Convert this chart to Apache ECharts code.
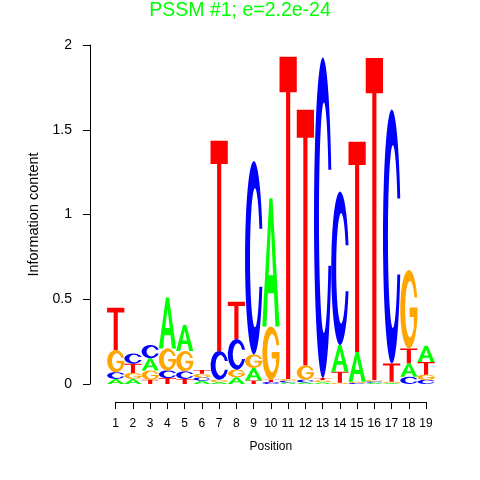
<!DOCTYPE html>
<html>
<head>
<meta charset="utf-8">
<script src="https://cdn.jsdelivr.net/npm/echarts@6/dist/echarts.min.js"></script>
<style>html,body{margin:0;padding:0;background:#fff;}#c{width:480px;height:480px;}</style>
</head>
<body>
<div id="c"></div>
<script>
// ---- data ----
const positions = [1,2,3,4,5,6,7,8,9,10,11,12,13,14,15,16,17,18,19];
const heightA = [0.030,0.030,0.072,0.300,0.155,0.019,0.012,0.040,0.075,0.757,0.009,0.010,0.011,0.157,0.176,0.007,0.006,0.079,0.095];
const heightC = [0.040,0.060,0.078,0.045,0.045,0.020,0.170,0.180,1.140,0.012,0.010,0.015,1.890,0.905,0.006,0.008,1.498,0.043,0.025];
const heightG = [0.130,0.035,0.055,0.130,0.120,0.021,0.013,0.045,0.080,0.314,0.011,0.085,0.012,0.008,0.007,0.009,0.007,0.463,0.030];
const heightT = [0.250,0.055,0.025,0.035,0.030,0.022,1.240,0.220,0.020,0.013,1.900,1.508,0.013,0.065,1.240,1.900,0.108,0.088,0.075];
const yTickValues = [0, 0.5, 1, 1.5, 2];
const titleText = 'PSSM #1; e=2.2e-24';

// ---- glyphs ----
const letters = ['A','C','G','T'];
const colors = ['#00ff00','#0000ff','#ffa500','#ff0000'];
const paths = [
  'M0,100 L41,0 L59,0 L100,100 L76,100 L68,74 L32,74 L24,100 Z M37,60 L63,60 L50,22 Z',
  'M97.7,35 A50,50 0 1 0 97.7,65 L81.5,65 A28,36 0 1 1 81.5,35 Z',
  'M97.7,35 A50,50 0 1 0 99,60 L99,48 L54,48 L54,60 L78,60 L78,72.3 A28,36 0 1 1 81.5,35 Z',
  'M0,0 L100,0 L100,11 L62,11 L62,100 L38,100 L38,11 L0,11 Z'
];

const heights = [heightA, heightC, heightG, heightT];
const stackData = [];
positions.forEach(function (p, i) {
  const col = letters.map(function (l, k) { return {k: k, h: heights[k][i]}; });
  col.sort(function (a, b) { return a.h - b.h; });
  let y = 0;
  col.forEach(function (c) {
    stackData.push([p, y, y + c.h, c.k]);
    y += c.h;
  });
});

const chart = echarts.init(document.getElementById('c'), null, {renderer: 'canvas'});
const font = 'Liberation Sans, Arial, Helvetica, sans-serif';
chart.setOption({
  animation: false,
  backgroundColor: '#fff',
  title: {
    text: titleText, left: 'center', top: 1, padding: 0,
    textStyle: {color: '#00ff00', fontSize: 19.5, fontWeight: 'normal', fontFamily: font}
  },
  grid: [
    {left: 107.1, top: 45, width: 327.6, height: 339},
    {left: 115.7, top: 45, width: 310.3, height: 339}
  ],
  xAxis: [
    {type: 'value', gridIndex: 0, min: 0.5, max: 19.5, show: false},
    {type: 'value', gridIndex: 1, min: 1, max: 19, interval: 1, offset: 18,
     axisLine: {show: true, onZero: false, lineStyle: {color: '#000', width: 1}},
     axisTick: {show: true, length: 7, lineStyle: {color: '#000'}},
     splitLine: {show: false},
     axisLabel: {color: '#000', fontSize: 12, fontFamily: font, margin: 16, showMinLabel: true, showMaxLabel: true},
     name: 'Position', nameLocation: 'middle', nameGap: 39,
     nameTextStyle: {color: '#000', fontSize: 12, fontFamily: font}}
  ],
  yAxis: [
    {type: 'value', gridIndex: 0, min: 0, max: 2, interval: 0.5, offset: 17.1,
     axisLine: {show: true, lineStyle: {color: '#000', width: 1}},
     axisTick: {show: true, length: 7, lineStyle: {color: '#000'}},
     splitLine: {show: false},
     axisLabel: {color: '#000', fontSize: 14, fontFamily: font, margin: 18,
       formatter: function (v) { return yTickValues.indexOf(v) >= 0 ? String(v) : ''; }},
     name: 'Information content', nameLocation: 'middle', nameGap: 46,
     nameTextStyle: {color: '#000', fontSize: 14.5, fontFamily: font}},
    {type: 'value', gridIndex: 1, min: 0, max: 2, show: false}
  ],
  series: [{
    type: 'custom',
    xAxisIndex: 0, yAxisIndex: 0,
    data: stackData,
    renderItem: function (params, api) {
      const x = api.value(0), y0 = api.value(1), y1 = api.value(2), k = api.value(3);
      const p0 = api.coord([x - 0.5, y1]);
      const p1 = api.coord([x + 0.5, y0]);
      const w = p1[0] - p0[0], h = p1[1] - p0[1];
      if (h < 0.3) return {type: 'group', children: []};
      return {
        type: 'path',
        shape: {pathData: paths[k], x: p0[0], y: p0[1], width: w, height: h, layout: 'cover'},
        style: {fill: colors[k]}
      };
    }
  }]
});
</script>
</body>
</html>
